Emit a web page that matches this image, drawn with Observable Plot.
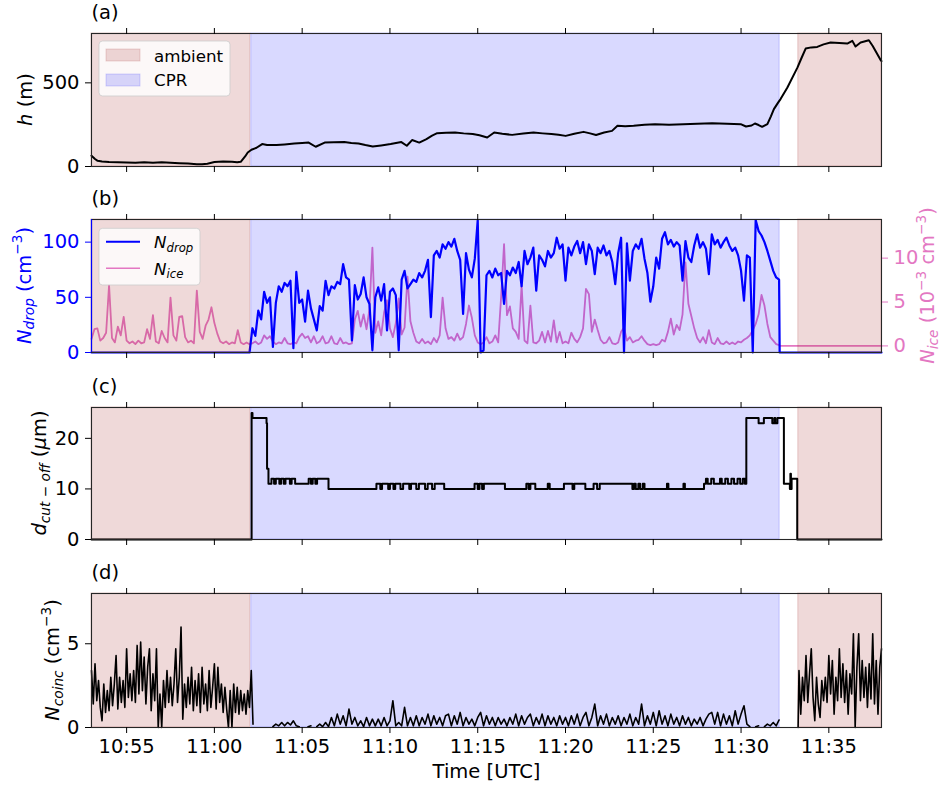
<!DOCTYPE html>
<html>
<head>
<meta charset="utf-8">
<script src="https://cdn.jsdelivr.net/npm/d3@7"></script>
<script src="https://cdn.jsdelivr.net/npm/@observablehq/plot@0.6"></script>
<style>
  body { margin: 0; background: #fff; }
  #fig { width: 943px; height: 787px; }
  #fig svg { display: block; overflow: visible; }
</style>
</head>
<body>
<div id="fig"></div>
<script>
// ---- time axis -------------------------------------------------------------
const startClock = "10:53";
const endClock = "11:38";
const timeTickLabels = ["10:55", "11:00", "11:05", "11:10", "11:15", "11:20", "11:25", "11:30", "11:35"];

// ---- sampling periods (minutes after 10:53 UTC) ---------------------------
const spanKinds = ["ambient", "CPR", "ambient"];
const spanStartMin = [0, 9.1, 40.26];
const spanEndMin = [9.04, 39.2, 45];

// ---- (a) altitude h (m) ----------------------------------------------------
const hMinutes = [0, 0.2, 0.35, 0.6, 1.0, 1.5, 2.0, 2.5, 3.0, 3.5, 4.0, 4.5, 5.0, 5.5, 6.0, 6.3, 6.6, 7.0, 7.5, 8.0, 8.3, 8.5,
  8.75, 8.9, 9.11, 9.4, 9.72, 10.0, 10.54, 11.0, 11.55, 12.0, 12.37, 12.77, 13.28, 13.8, 14.4, 14.8, 15.21, 15.6, 16.02,
  16.5, 17.04, 17.65, 17.96, 18.26, 18.67, 19.08, 19.4, 19.69, 20.2, 20.71, 21.2, 21.72, 22.1, 22.54, 22.94, 23.4, 23.96,
  24.6, 25.18, 25.7, 26.2, 26.6, 27.01, 27.5, 28.03, 28.4, 28.74, 29.2, 29.65, 29.96, 30.4, 30.88, 31.5, 32.1, 32.9,
  33.72, 34.5, 35.35, 36.2, 36.98, 37.28, 37.6, 37.79, 38.0, 38.2, 38.5, 38.7, 38.87, 39.11, 39.25, 39.64, 40.21, 40.45,
  40.68, 41.0, 41.34, 41.7, 42.1, 42.6, 43.05, 43.34, 43.52, 43.81, 44.28, 44.5, 44.95, 45.0];
const hValues = [64, 45, 34, 30, 27, 25, 24, 22, 26, 22, 25, 23, 20, 18, 14, 13, 17, 27, 30, 28, 25, 28,
  60, 84, 100, 112, 134, 128, 128, 132, 137, 140, 143, 118, 143, 145, 146, 141, 137, 128, 120,
  126, 134, 146, 124, 158, 143, 164, 185, 199, 202, 203, 198, 194, 187, 173, 203, 196, 189,
  197, 203, 198, 194, 190, 183, 196, 207, 198, 188, 203, 213, 243, 240, 243, 249, 253, 250,
  253, 256, 259, 256, 253, 239, 245, 257, 248, 237, 253, 300, 343, 382, 403, 472, 591, 650,
  705, 712, 715, 730, 741, 738, 735, 751, 717, 741, 755, 720, 636, 630];
const hTicks = [0, 500];

// ---- (b) droplet number N_drop (cm^-3), every 10 s from 11:02:00 -----------
const ndropStartMin = 9;
const ndropStepSec = 10;
const ndropValues = [0, 22, 15, 38, 30, 55, 45, 50, 5, 45,
  60, 55, 63, 60, 65, 4, 73, 45, 48, 28,
  56, 40, 30, 20, 42, 38, 65, 52, 60, 58,
  64, 62, 80, 68, 66, 11, 61, 48, 53, 68,
  50, 44, 2, 50, 59, 47, 62, 20, 55, 58,
  52, 2, 66, 74, 58, 62, 66, 64, 72, 68,
  74, 84, 32, 88, 92, 86, 98, 94, 100, 96,
  103, 92, 84, 35, 90, 75, 68, 85, 120, 0,
  2, 70, 74, 68, 76, 70, 72, 44, 74, 70,
  77, 72, 82, 60, 92, 80, 86, 95, 56, 88,
  84, 78, 92, 86, 90, 104, 94, 98, 65, 95,
  88, 96, 101, 90, 100, 80, 98, 92, 71, 95,
  90, 97, 88, 92, 82, 62, 90, 104, 0, 99,
  65, 92, 98, 94, 103, 85, 72, 46, 60, 86,
  76, 103, 109, 98, 102, 96, 100, 97, 65, 101,
  86, 82, 97, 107, 95, 100, 94, 71, 107, 98,
  102, 95, 100, 104, 97, 92, 95, 88, 74, 47,
  88, 86, 0, 120, 110, 106, 100, 92, 83, 74,
  68, 66];
const ndropEdgeMinutes = [0, 39.2, 45];
const ndropEdgeValues = [0, 0, 0];
const ndropTicks = [0, 50, 100];

// ---- (b) ice number N_ice (10^-3 cm^-3), every 10 s from 10:53:00 ----------
const niceStartMin = 0;
const niceStepSec = 10;
const niceValues = [0.8, 1.9, 2.0, 0.6, 0.9, 1.5, 6.9, 0.9, 0.4, 2.2,
  1.2, 3.3, 0.6, 0.3, 0.5, 0.2, 0.6, 0.3, 0.4, 1.9,
  0.8, 3.5, 0.5, 0.3, 1.7, 0.9, 0.4, 5.5, 1.2, 0.6,
  3.3, 3.4, 1.0, 0.4, 0.6, 0.3, 6.3, 1.6, 0.8, 2.3,
  3.0, 4.4, 2.6, 1.4, 0.5, 0.3, 0.5, 0.2, 0.4, 0.3,
  1.8, 0.4, 0.2, 0.4, 0.2, 0.3, 0.5, 0.2, 0.4, 1.2,
  0.8, 1.1, 0.5, 0.2, 0.4, 0.3, 0.9, 0.3, 0.2, 0.4,
  0.3, 1.0, 1.4, 0.9, 1.1, 0.4, 1.1, 0.3, 0.5, 1.1,
  0.3, 0.4, 1.1, 0.3, 0.2, 0.9, 0.3, 0.4, 0.2, 0.3,
  3.0, 4.0, 2.2, 3.6, 1.9, 4.2, 11.2, 1.5, 2.8, 1.2,
  3.8, 5.2, 2.0, 1.0, 2.6, 5.4, 1.3, 2.1, 7.9, 2.8,
  1.5, 0.5, 0.3, 0.8, 0.3, 0.5, 0.2, 0.9, 0.4, 1.2,
  5.5, 2.0, 0.8, 1.0, 0.6, 1.4, 0.7, 1.0, 2.5, 4.6,
  3.2, 1.2, 0.4, 0.2, 0.4, 1.0, 0.3, 0.5, 1.2, 0.4,
  5.6, 11.6, 3.5, 4.5, 2.0, 1.6, 0.8, 6.9, 0.6, 0.3,
  4.6, 0.4, 0.3, 0.6, 1.6, 0.4, 1.7, 0.5, 2.9, 0.4,
  1.6, 0.3, 0.5, 0.3, 1.5, 0.8, 0.4, 1.0, 2.0, 6.5,
  5.9, 1.6, 3.0, 1.8, 0.7, 0.3, 0.4, 1.0, 0.3, 0.2,
  0.4, 1.6, 2.1, 0.6, 1.0, 0.4, 0.6, 0.7, 1.1, 0.6,
  0.2, 0.1, 0.2, 0.1, 0.2, 0.7, 0.5, 1.6, 3.1, 1.3,
  2.4, 1.8, 3.6, 9.5, 4.8, 3.4, 2.0, 0.9, 0.4, 1.0,
  0.3, 1.8, 0.4, 0.2, 0.9, 0.3, 0.2, 0.5, 0.2, 0.4,
  0.2, 0.5, 0.4, 0.7, 0.9, 1.2, 1.8, 2.5, 3.6, 5.8,
  4.6, 2.5, 1.0, 0.6, 0.2, 0.1];
const niceEdgeMinutes = [39.2, 45];
const niceEdgeValues = [0, 0];
const niceTicks = [0, 5, 10];

// ---- (c) cut-off diameter (µm), value held until the next change ----------
const dMinutes = [0, 9.12, 9.17, 9.97, 10.0, 10.08, 10.25, 10.4, 10.5, 10.7, 10.8, 10.95, 11.05, 11.3, 11.4, 11.6,
  12.37, 12.5, 12.6, 12.75, 12.85, 13.5, 16.23, 16.45, 16.55, 16.9, 17.0, 17.2, 17.3, 17.6, 17.75, 18.1, 18.2,
  18.5, 18.65, 19.0, 19.15, 19.4, 19.55, 20.09, 21.82, 22.0, 22.1, 22.25, 22.35, 23.55, 24.77, 24.9, 25.0,
  25.28, 25.99, 26.1, 26.91, 27.4, 27.5, 28.13, 28.6, 28.8, 28.95, 30.81, 30.9, 31.0, 31.15, 31.25, 31.4, 31.5,
  32.78, 32.86, 33.72, 33.8, 34.89, 35.0, 35.1, 35.3, 35.45, 35.8, 35.9, 36.1, 36.25, 36.45, 36.6, 36.8, 36.95,
  37.1, 37.22, 37.3, 38.0, 38.3, 38.78, 38.9, 38.95, 39.07, 39.44, 39.78, 39.81, 39.84, 39.88, 40.2, 45];
const dValues = [0, 25, 24, 23, 14, 11, 12, 11, 12, 11, 12, 11, 12, 11, 12, 11,
  12, 11, 12, 11, 12, 10, 11, 10, 11, 10, 11, 10, 11, 10, 11, 10, 11,
  10, 11, 10, 11, 10, 11, 10, 11, 10, 11, 10, 11, 10, 11, 10, 11,
  10, 11, 10, 11, 10, 11, 10, 11, 10, 11, 10, 11, 10, 11, 10, 11, 10,
  11, 10, 11, 10, 11, 12, 11, 12, 11, 12, 11, 12, 11, 12, 11, 12, 11,
  12, 11, 24, 23, 24, 23, 24, 23, 24, 11, 10, 13, 10, 12, 0, 0];
const dTicks = [0, 10, 20];

// ---- (d) coincidence N_coinc (cm^-3) ----------------------------------------
// first ambient leg, every 6 s from 10:53:00
const ncoincAmbientAStartMin = 0;
const ncoincAmbientAStepSec = 6;
const ncoincAmbientA = [3.4, 1.4, 3.8, 1.6, 2.8, 1.2, 0.4, 2.6, 0.9, 2.2,
  1.0, 3.0, 1.3, 2.6, 4.3, 1.1, 3.0, 1.5, 2.8, 1.2,
  4.7, 1.8, 3.2, 1.6, 3.4, 1.5, 4.9, 2.0, 5.1, 2.2,
  4.2, 1.4, 3.6, 4.7, 1.0, 3.2, 1.6, 4.7, 0, 2.0,
  0, 2.8, 1.2, 3.4, 1.5, 3.0, 1.3, 2.6, 4.7, 1.5,
  3.0, 6.0, 0.5, 2.6, 1.2, 3.0, 1.4, 3.6, 1.0, 2.8,
  1.3, 3.2, 0.9, 3.6, 1.4, 2.6, 1.0, 3.4, 1.2, 2.4,
  3.8, 1.1, 3.6, 1.5, 2.6, 0.9, 2.4, 1.1, 0, 2.2,
  0, 2.6, 0.9, 2.4, 0.8, 2.2, 1.0, 2.0, 0.8, 2.2,
  1.2, 3.4, 0.2];
// CPR leg, every 10 s from 11:03:20 (null = no data)
const ncoincCprStartMin = 10 + 20 / 60;
const ncoincCprStepSec = 10;
const ncoincCpr = [0.05, 0.2, 0.1, 0.3, 0.1, 0.3, 0.15, 0.4, 0.1, 0.05,
  null, null, 0.05, 0.1, null, 0.05, 0.2, 0.05, 0.3, 0.05,
  0.6, 0.1, 0.8, 0.2, 0.7, 0.1, 1.1, 0.2, 0.6, 0.1,
  0.4, 0.05, 0.6, 0.1, 0.5, 0.1, 0.5, 0.1, 0.6, 0.1,
  0.4, 1.6, 0.1, 0.3, 0.1, 1.2, 0.1, 0.6, 0.1, 0.7,
  0.1, 0.6, 0.2, 0.8, 0.1, 0.7, 0.2, 0.6, 0.1, 0.7,
  0.8, 0.1, 0.7, 0.2, 0.9, 0.1, 0.6, 0.2, 0.5, 0.1,
  0.6, 0.9, 0.1, 0.7, 0.2, 0.6, 0.1, 0.6, 0.2, 0.5,
  0.1, 0.6, 0.2, 0.8, 0.1, 0.7, 0.2, 0.6, 0.8, 0.1,
  0.6, 0.2, 0.8, 0.1, 0.7, 0.2, 0.6, 0.1, 0.7, 0.2,
  0.6, 0.1, 0.7, 0.2, 0.8, 0.1, 0.6, 0.9, 0.1, 0.6,
  1.4, 0.1, 0.7, 0.2, 0.8, 0.1, 0.6, 0.2, 0.7, 0.1,
  0.6, 0.2, 0.8, 0.1, 0.6, 0.2, 1.4, 0.1, 0.7, 0.2,
  0.9, 0.1, 1.0, 0.2, 0.7, 0.1, 0.8, 0.2, 0.6, 0.1,
  0.7, 0.2, 0.6, 0.1, 0.5, 0.2, 0.6, 0.1, 0.5, 0.8,
  0.9, 0.2, 0.9, 0.1, 0.8, 0.2, 0.7, 0.1, 1.0, 0.2,
  0.8, 1.3, 0.2, 0.05, null, 0.05, 0.1, null, 0.05, 0.2,
  0.1, 0.3, 0.1, 0.45];
// second ambient leg, every 6 s from 11:33:18 (starting from zero at 11:33:15)
const ncoincAmbientBEdgeMin = 40.25;
const ncoincAmbientBStartMin = 40.3;
const ncoincAmbientBStepSec = 6;
const ncoincAmbientB = [3.4, 0.8, 3.0, 1.6, 4.3, 1.5, 3.2, 4.7, 1.8, 0.4,
  3.0, 1.4, 0.6, 2.8, 1.6, 3.0, 1.5, 4.3, 2.0, 4.0,
  0.8, 3.0, 1.6, 4.7, 1.8, 3.8, 1.5, 3.4, 0.8, 3.2,
  2.0, 5.6, 0, 3.6, 5.6, 1.6, 4.0, 1.8, 3.6, 1.2,
  3.8, 1.7, 5.6, 1.4, 4.0, 0.8, 3.6, 4.7];
const ncoincTicks = [0, 5];

// ---- helpers ---------------------------------------------------------------
const FONT = "'DejaVu Sans', sans-serif";
const TICK_SIZE = 19.5;
const LEGEND_SIZE = 16.7;
const PINK = "#e377c2";

function clock(s) {
  const [h, m, sec = 0] = s.split(":").map(Number);
  return new Date(Date.UTC(2000, 0, 1, h, m, sec));
}
const t0 = clock(startClock).getTime();
const at = (minutes) => new Date(t0 + minutes * 60000);
const num = (v) => (v == null ? NaN : v);
const sampled = (startMin, stepSec, values) =>
  values.map((v, i) => ({t: at(startMin + (i * stepSec) / 60), v: num(v)}));
const paired = (minutes, values) => minutes.map((m, i) => ({t: at(m), v: num(values[i])}));

const xDomain = [clock(startClock), clock(endClock)];
const tickDates = timeTickLabels.map(clock);
const spans = spanKinds.map((kind, i) => ({kind, x1: at(spanStartMin[i]), x2: at(spanEndMin[i])}));
const spanStyle = {
  ambient: {color: "brown", opacity: 0.18},
  CPR: {color: "blue", opacity: 0.15}
};

// right-hand N_ice axis expressed in the left-hand N_drop units
const ndropDomain = [0, 120.5];
const niceDomain = [-0.75, 14.4];
const iceToLeft = (v) =>
  ndropDomain[0] + ((v - niceDomain[0]) / (niceDomain[1] - niceDomain[0])) * (ndropDomain[1] - ndropDomain[0]);
const leftToIce = (u) =>
  niceDomain[0] + ((u - ndropDomain[0]) / (ndropDomain[1] - ndropDomain[0])) * (niceDomain[1] - niceDomain[0]);

// ---- series ------------------------------------------------------------------
const hSeries = paired(hMinutes, hValues);
const ndropSeries = [
  ...paired(ndropEdgeMinutes.slice(0, 1), ndropEdgeValues.slice(0, 1)),
  ...sampled(ndropStartMin, ndropStepSec, ndropValues),
  ...paired(ndropEdgeMinutes.slice(1), ndropEdgeValues.slice(1))
];
const niceSeries = [
  ...sampled(niceStartMin, niceStepSec, niceValues),
  ...paired(niceEdgeMinutes, niceEdgeValues)
];
const dSeries = paired(dMinutes, dValues);
const gap = (m) => ({t: at(m), v: NaN});
const ncoincSeries = [
  ...sampled(ncoincAmbientAStartMin, ncoincAmbientAStepSec, ncoincAmbientA),
  gap(9.8),
  ...sampled(ncoincCprStartMin, ncoincCprStepSec, ncoincCpr),
  gap(39.7),
  {t: at(ncoincAmbientBEdgeMin), v: 0},
  ...sampled(ncoincAmbientBStartMin, ncoincAmbientBStepSec, ncoincAmbientB)
];

// ---- shared marks ------------------------------------------------------------
function spanMarks() {
  return Object.entries(spanStyle).map(([kind, s]) =>
    Plot.rect(spans.filter((d) => d.kind === kind), {
      x1: "x1", x2: "x2",
      fill: s.color, fillOpacity: s.opacity,
      stroke: s.color, strokeOpacity: s.opacity, strokeWidth: 1.2
    })
  );
}
function timeAxes(showLabels) {
  return [
    Plot.axisX({anchor: "top", ticks: tickDates, tickSize: 6, tickFormat: () => "", label: null}),
    Plot.axisX({
      anchor: "bottom", ticks: tickDates, tickSize: 6, tickPadding: 6, label: null,
      tickFormat: showLabels ? d3.utcFormat("%H:%M") : () => ""
    })
  ];
}
function panelTitle(s) {
  return Plot.text([s], {text: (d) => d, frameAnchor: "top-left", dy: -14.5, lineAnchor: "bottom", textAnchor: "start"});
}
function makePanel({height, marginTop, marginBottom, yDomain, marks}) {
  return Plot.plot({
    width: 943, height, marginLeft: 91, marginRight: 62, marginTop, marginBottom,
    style: {fontFamily: FONT, fontSize: TICK_SIZE + "px", background: "white", color: "black", overflow: "visible"},
    x: {type: "utc", domain: xDomain},
    y: {domain: yDomain},
    marks
  });
}

// mathtext-like label: parts with italic / subscript / superscript
function mathText(sel, parts, size) {
  let shift = 0;
  for (const p of parts) {
    const target = p.sub ? 0.2 * size : p.sup ? -0.42 * size : 0;
    sel.append("tspan")
      .attr("dy", (target - shift).toFixed(2))
      .style("font-size", (p.sub || p.sup ? 0.7 * size : size) + "px")
      .style("font-style", p.it ? "italic" : "normal")
      .text(p.s);
    shift = target;
  }
}
function yLabel(svg, x, y, parts, color = "black") {
  const t = d3.select(svg).append("text")
    .attr("transform", `translate(${x},${y}) rotate(-90)`)
    .attr("text-anchor", "middle")
    .attr("fill", color)
    .style("font-family", FONT)
    .style("white-space", "pre")
    .style("font-size", TICK_SIZE + "px");
  mathText(t, parts, TICK_SIZE);
}
function legendBox(g, x, y, w, h) {
  g.append("rect").attr("x", x).attr("y", y).attr("width", w).attr("height", h)
    .attr("rx", 3.5).attr("fill", "white").attr("fill-opacity", 0.8)
    .attr("stroke", "#cccccc").attr("stroke-opacity", 0.8).attr("stroke-width", 1);
}
function legendText(g, x, y, parts) {
  const t = g.append("text").attr("x", x).attr("y", y).attr("fill", "black")
    .attr("text-anchor", "start")
    .style("font-family", FONT).style("white-space", "pre").style("font-size", LEGEND_SIZE + "px");
  mathText(t, parts, LEGEND_SIZE);
}

const fig = document.getElementById("fig");

// ---- (a) altitude --------------------------------------------------------------
{
  const cfg = {height: 187, marginTop: 33, marginBottom: 21};
  const svg = makePanel({
    ...cfg, yDomain: [0, 795],
    marks: [
      ...spanMarks(),
      Plot.line(hSeries, {x: "t", y: "v", stroke: "black", strokeWidth: 2}),
      Plot.frame({stroke: "#262626", strokeWidth: 1.1}),
      Plot.axisY({anchor: "left", ticks: hTicks, tickSize: 6, tickPadding: 6, label: null}),
      ...timeAxes(false),
      panelTitle("(a)")
    ]
  });
  const cy = cfg.marginTop + (cfg.height - cfg.marginTop - cfg.marginBottom) / 2;
  yLabel(svg, 31.5, cy, [{s: "h", it: true}, {s: " (m)"}]);
  const g = d3.select(svg).append("g");
  legendBox(g, 99, 41, 131, 55);
  Object.keys(spanStyle).forEach((kind, i) => {
    const s = spanStyle[kind];
    g.append("rect").attr("x", 106).attr("y", 49 + i * 25).attr("width", 34).attr("height", 12)
      .attr("fill", s.color).attr("fill-opacity", s.opacity)
      .attr("stroke", s.color).attr("stroke-opacity", s.opacity);
    legendText(g, 154, 61.5 + i * 24.5, [{s: kind}]);
  });
  fig.appendChild(svg);
}

// ---- (b) droplet and ice number concentrations ----------------------------------
{
  const cfg = {height: 187, marginTop: 32, marginBottom: 22};
  const svg = makePanel({
    ...cfg, yDomain: ndropDomain,
    marks: [
      Plot.line(niceSeries, {x: "t", y: (d) => iceToLeft(d.v), stroke: PINK, strokeWidth: 1.8}),
      Plot.line(ndropSeries, {x: "t", y: "v", stroke: "blue", strokeWidth: 2.2}),
      ...spanMarks(),
      Plot.frame({stroke: "#262626", strokeWidth: 1.1}),
      Plot.ruleX([xDomain[0]], {stroke: "blue", strokeWidth: 1.2}),
      Plot.axisY({anchor: "left", ticks: ndropTicks, tickSize: 6, tickPadding: 6, label: null, color: "blue"}),
      Plot.axisY({
        anchor: "right", ticks: niceTicks.map(iceToLeft), tickSize: 6, tickPadding: 6, label: null, color: PINK,
        tickFormat: (u) => String(Math.round(leftToIce(u)))
      }),
      ...timeAxes(false),
      panelTitle("(b)")
    ]
  });
  const cy = cfg.marginTop + (cfg.height - cfg.marginTop - cfg.marginBottom) / 2;
  yLabel(svg, 30.5, cy,
    [{s: "N", it: true}, {s: "drop", it: true, sub: true}, {s: " (cm"}, {s: "−3", sup: true}, {s: ")"}], "blue");
  yLabel(svg, 934, cy,
    [{s: "N", it: true}, {s: "ice", it: true, sub: true}, {s: " (10"}, {s: "−3", sup: true}, {s: " cm"}, {s: "−3", sup: true}, {s: ")"}], PINK);
  const g = d3.select(svg).append("g");
  legendBox(g, 99, 41.3, 101, 56.7);
  g.append("line").attr("x1", 106).attr("x2", 140).attr("y1", 54.7).attr("y2", 54.7)
    .attr("stroke", "blue").attr("stroke-width", 2);
  g.append("line").attr("x1", 106).attr("x2", 140).attr("y1", 81.3).attr("y2", 81.3)
    .attr("stroke", PINK).attr("stroke-width", 1.5);
  legendText(g, 154, 61.3, [{s: "N", it: true}, {s: "drop", it: true, sub: true}]);
  legendText(g, 154, 88, [{s: "N", it: true}, {s: "ice", it: true, sub: true}]);
  fig.appendChild(svg);
}

// ---- (c) cut-off diameter ------------------------------------------------------
{
  const cfg = {height: 187, marginTop: 33, marginBottom: 22};
  const svg = makePanel({
    ...cfg, yDomain: [0, 26.1],
    marks: [
      ...spanMarks(),
      Plot.line(dSeries, {x: "t", y: "v", stroke: "black", strokeWidth: 2, curve: "step-after"}),
      Plot.frame({stroke: "#262626", strokeWidth: 1.1}),
      Plot.axisY({anchor: "left", ticks: dTicks, tickSize: 6, tickPadding: 6, label: null}),
      ...timeAxes(false),
      panelTitle("(c)")
    ]
  });
  const cy = cfg.marginTop + (cfg.height - cfg.marginTop - cfg.marginBottom) / 2;
  yLabel(svg, 46, cy, [
    {s: "d", it: true}, {s: "cut", it: true, sub: true}, {s: " − ", sub: true}, {s: "off", it: true, sub: true},
    {s: " ("}, {s: "μ", it: true}, {s: "m)"}
  ]);
  fig.appendChild(svg);
}

// ---- (d) coincidence -----------------------------------------------------------
{
  const cfg = {height: 226, marginTop: 32, marginBottom: 60};
  const svg = makePanel({
    ...cfg, yDomain: [0, 8],
    marks: [
      ...spanMarks(),
      Plot.line(ncoincSeries, {x: "t", y: "v", stroke: "black", strokeWidth: 1.6}),
      Plot.frame({stroke: "#262626", strokeWidth: 1.1}),
      Plot.axisY({anchor: "left", ticks: ncoincTicks, tickSize: 6, tickPadding: 6, label: null}),
      ...timeAxes(true),
      panelTitle("(d)"),
      Plot.text(["Time [UTC]"], {text: (d) => d, frameAnchor: "bottom", dy: 50, lineAnchor: "bottom"})
    ]
  });
  const cy = cfg.marginTop + (cfg.height - cfg.marginTop - cfg.marginBottom) / 2;
  yLabel(svg, 59, cy, [{s: "N", it: true}, {s: "coinc", it: true, sub: true}, {s: " (cm"}, {s: "−3", sup: true}, {s: ")"}]);
  fig.appendChild(svg);
}
</script>
</body>
</html>
